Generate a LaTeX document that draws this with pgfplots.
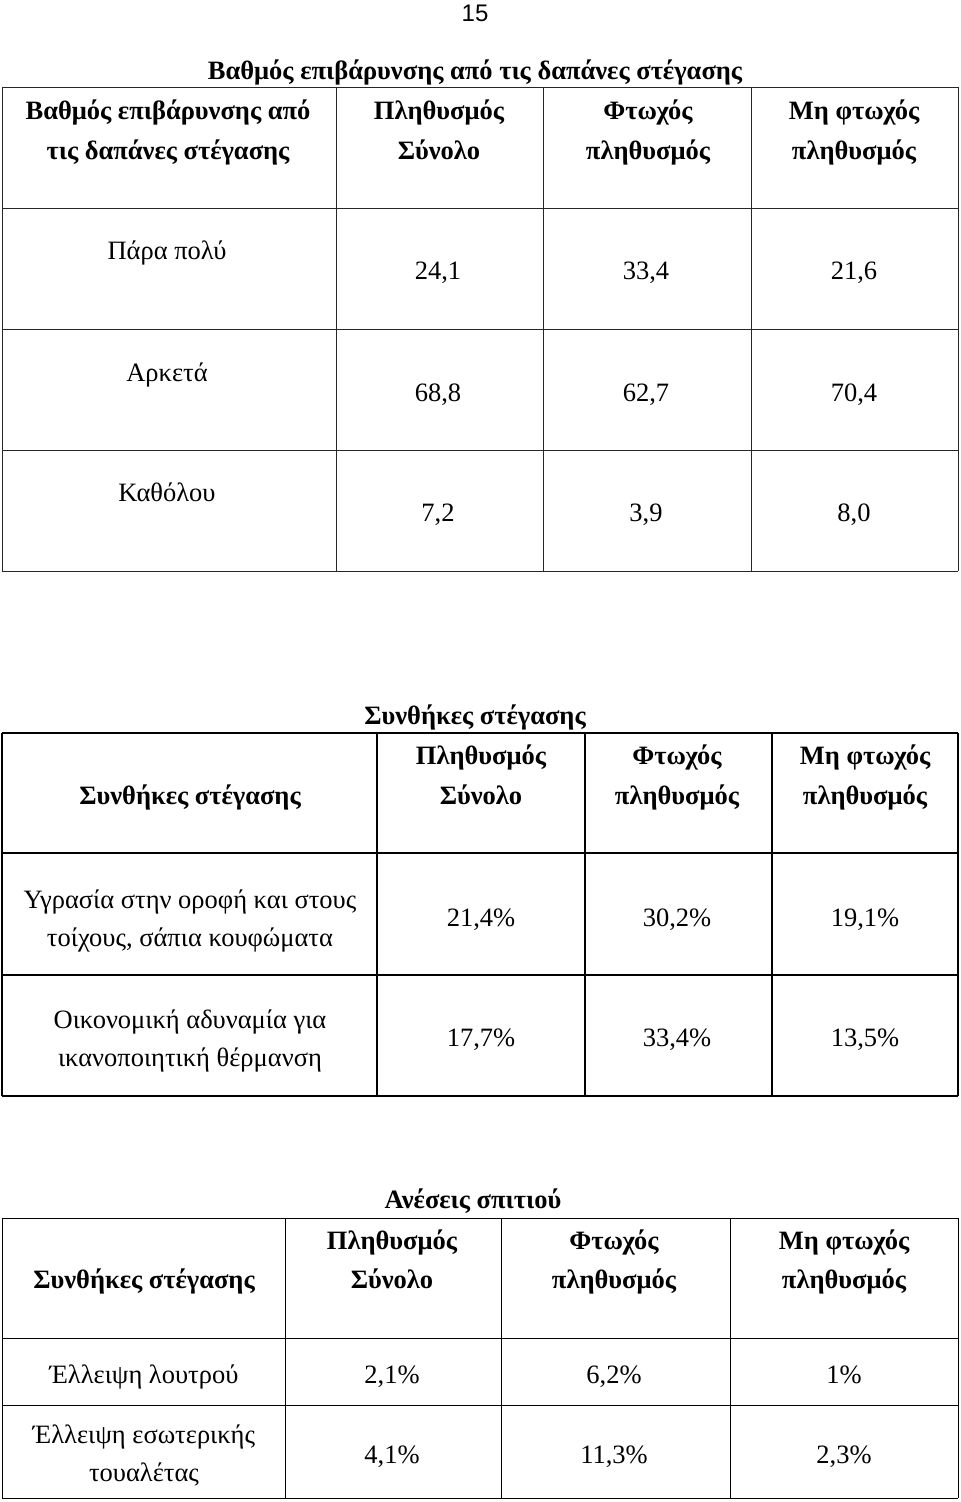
\documentclass[border=0pt]{standalone}
\usepackage{pgfplots}
\pgfplotsset{compat=1.18}
\usepackage{fontspec}
\setmainfont{Liberation Serif}
\newfontfamily\arialfont{Liberation Sans}
\tikzset{cell/.style={anchor=center, text height=0.7em, text depth=0.2em, inner sep=0pt},
  head/.style={cell, font=\bfseries}}

\begin{document}
\fontsize{13.25}{20}\selectfont
\begin{tikzpicture}
\begin{axis}[
    width=480pt, height=751pt, scale only axis,
    xmin=0, xmax=960, ymin=0, ymax=1502,
    y dir=reverse,
    hide axis, clip=false,
    unbounded coords=jump,
    cycle list={{black!85, line width=1pt, mark=none}},
]
\path (rel axis cs:0,0) rectangle (rel axis cs:1,1);

% table 1 grid
\addplot coordinates {
 (2,87.5) (958,87.5) (nan,nan)
 (2,208.5) (958,208.5) (nan,nan)
 (2,329.5) (958,329.5) (nan,nan)
 (2,450) (958,450) (nan,nan)
 (2,571) (958,571) (nan,nan)
 (2,87.5) (2,571) (nan,nan)
 (336,87.5) (336,571) (nan,nan)
 (543,87.5) (543,571) (nan,nan)
 (751,87.5) (751,571) (nan,nan)
 (958,87.5) (958,571)
};
% table 2 grid
\addplot coordinates {
 (2,733) (958,733) (nan,nan)
 (2,853) (958,853) (nan,nan)
 (2,975) (958,975) (nan,nan)
 (2,1096) (958,1096) (nan,nan)
 (2,733) (2,1096) (nan,nan)
 (377,733) (377,1096) (nan,nan)
 (585,733) (585,1096) (nan,nan)
 (772,733) (772,1096) (nan,nan)
 (958,733) (958,1096)
};
% table 3 grid
\addplot coordinates {
 (2,1218) (958,1218) (nan,nan)
 (2,1338) (958,1338) (nan,nan)
 (2,1405) (958,1405) (nan,nan)
 (2,1498) (958,1498) (nan,nan)
 (2,1218) (2,1498) (nan,nan)
 (285,1218) (285,1498) (nan,nan)
 (501,1218) (501,1498) (nan,nan)
 (730,1218) (730,1498) (nan,nan)
 (958,1218) (958,1498)
};

% page number
\node[cell] at (axis cs:475,15) {\arialfont\fontsize{12}{14}\selectfont 15};

% table 1
\node[head] at (axis cs:475,73) {Βαθμός επιβάρυνσης από τις δαπάνες στέγασης};
\node[head] at (axis cs:168,113) {Βαθμός επιβάρυνσης από};
\node[head] at (axis cs:168,153) {τις δαπάνες στέγασης};
\node[head] at (axis cs:439,113) {Πληθυσμός};
\node[head] at (axis cs:439,153) {Σύνολο};
\node[head] at (axis cs:648,113) {Φτωχός};
\node[head] at (axis cs:648,153) {πληθυσμός};
\node[head] at (axis cs:854,113) {Μη φτωχός};
\node[head] at (axis cs:854,153) {πληθυσμός};

\node[cell] at (axis cs:167,253) {Πάρα πολύ};
\node[cell] at (axis cs:438,273) {24,1};
\node[cell] at (axis cs:646,273) {33,4};
\node[cell] at (axis cs:854,273) {21,6};

\node[cell] at (axis cs:167,375) {Αρκετά};
\node[cell] at (axis cs:438,395) {68,8};
\node[cell] at (axis cs:646,395) {62,7};
\node[cell] at (axis cs:854,395) {70,4};

\node[cell] at (axis cs:167,495) {Καθόλου};
\node[cell] at (axis cs:438,515) {7,2};
\node[cell] at (axis cs:646,515) {3,9};
\node[cell] at (axis cs:854,515) {8,0};

% table 2
\node[head] at (axis cs:475,718) {Συνθήκες στέγασης};
\node[head] at (axis cs:190,798) {Συνθήκες στέγασης};
\node[head] at (axis cs:481,758) {Πληθυσμός};
\node[head] at (axis cs:481,798) {Σύνολο};
\node[head] at (axis cs:677,758) {Φτωχός};
\node[head] at (axis cs:677,798) {πληθυσμός};
\node[head] at (axis cs:865,758) {Μη φτωχός};
\node[head] at (axis cs:865,798) {πληθυσμός};

\node[cell] at (axis cs:190,902) {Υγρασία στην οροφή και στους};
\node[cell] at (axis cs:190,940) {τοίχους, σάπια κουφώματα};
\node[cell] at (axis cs:481,920) {21,4\%};
\node[cell] at (axis cs:677,920) {30,2\%};
\node[cell] at (axis cs:865,920) {19,1\%};

\node[cell] at (axis cs:190,1022) {Οικονομική αδυναμία για};
\node[cell] at (axis cs:190,1060) {ικανοποιητική θέρμανση};
\node[cell] at (axis cs:481,1040) {17,7\%};
\node[cell] at (axis cs:677,1040) {33,4\%};
\node[cell] at (axis cs:865,1040) {13,5\%};

% table 3
\node[head] at (axis cs:473,1202) {Ανέσεις σπιτιού};
\node[head] at (axis cs:144,1282) {Συνθήκες στέγασης};
\node[head] at (axis cs:392,1243) {Πληθυσμός};
\node[head] at (axis cs:392,1282) {Σύνολο};
\node[head] at (axis cs:614,1243) {Φτωχός};
\node[head] at (axis cs:614,1282) {πληθυσμός};
\node[head] at (axis cs:844,1243) {Μη φτωχός};
\node[head] at (axis cs:844,1282) {πληθυσμός};

\node[cell] at (axis cs:144,1377) {Έλλειψη λουτρού};
\node[cell] at (axis cs:392,1377) {2,1\%};
\node[cell] at (axis cs:614,1377) {6,2\%};
\node[cell] at (axis cs:844,1377) {1\%};

\node[cell] at (axis cs:144,1437) {Έλλειψη εσωτερικής};
\node[cell] at (axis cs:144,1475) {τουαλέτας};
\node[cell] at (axis cs:392,1457) {4,1\%};
\node[cell] at (axis cs:614,1457) {11,3\%};
\node[cell] at (axis cs:844,1457) {2,3\%};
\end{axis}
\end{tikzpicture}
\end{document}
